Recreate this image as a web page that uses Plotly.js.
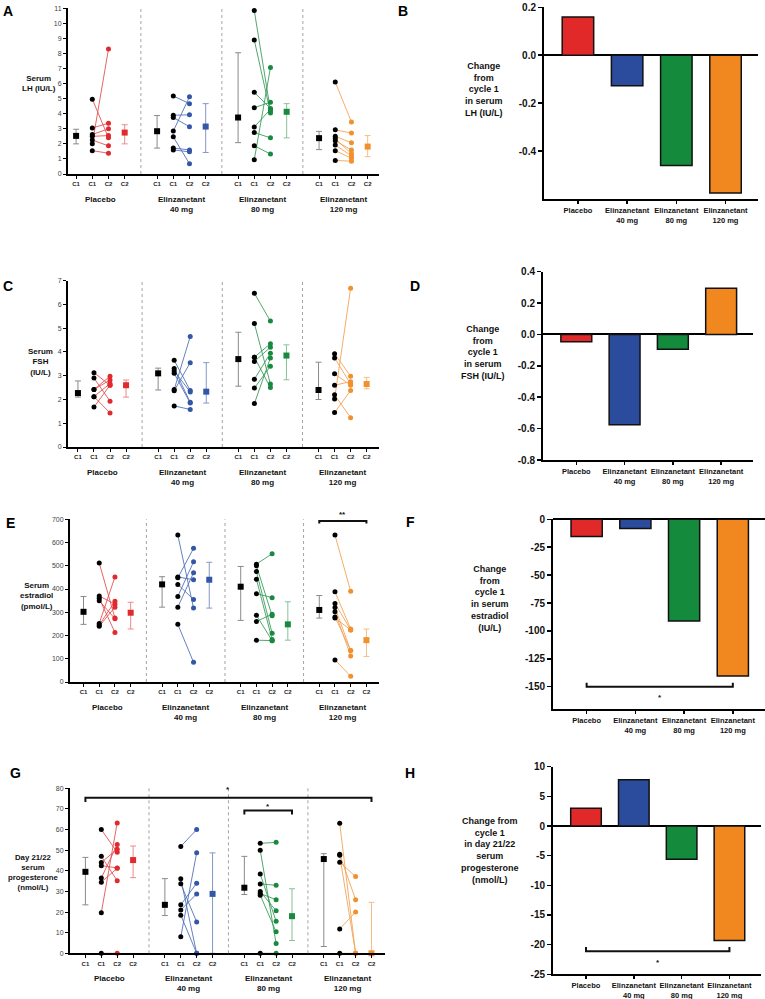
<!DOCTYPE html>
<html><head><meta charset="utf-8">
<script src="https://cdn.plot.ly/plotly-3.0.1.min.js"></script>
<style>html,body{margin:0;padding:0;background:#fff}#chart{width:765px;height:999px}</style>
</head><body><div id="chart"></div>
<script>
// ---------- labels ----------
const groupLabels = ["Placebo", "Elinzanetant<br>40 mg", "Elinzanetant<br>80 mg", "Elinzanetant<br>120 mg"];
const slotLabels = ["C1", "C1", "C2", "C2"];

// ---------- Panel A: serum LH (IU/L), paired individual values ----------
const lhC1 = [[2.0, 4.97, 3.06, 2.62, 2.5, 2.25, 1.55], [5.18, 3.9, 3.75, 2.85, 2.47, 1.72, 1.6], [10.85, 8.9, 5.42, 4.4, 3.12, 2.75, 1.88, 0.95], [6.1, 2.93, 2.5, 2.35, 2.2, 1.93, 1.55, 0.9]];
const lhC2 = [[8.3, 2.4, 3.37, 3.0, 2.55, 1.87, 1.38], [4.67, 3.93, 3.14, 5.12, 0.68, 1.6, 1.47], [4.2, 4.05, 4.35, 4.77, 4.3, 2.4, 1.32, 7.07], [3.45, 2.72, 2.07, 1.35, 1.6, 1.2, 1.05, 0.85]];
const lhC1Mid = [2.53, 2.84, 3.75, 2.38], lhC1Hi = [2.97, 3.88, 8.05, 2.83], lhC1Lo = [2.0, 1.72, 2.08, 1.62];
const lhC2Mid = [2.75, 3.15, 4.13, 1.82], lhC2Hi = [3.27, 4.67, 4.67, 2.55], lhC2Lo = [2.0, 1.43, 2.4, 1.15];

// ---------- Panel C: serum FSH (IU/L) ----------
const fshC1 = [[3.13, 2.9, 2.42, 2.42, 2.12, 2.12, 1.68], [3.65, 3.3, 3.2, 3.1, 2.42, 2.37, 1.73], [6.47, 5.2, 3.78, 3.78, 3.6, 2.85, 2.48, 1.83], [3.93, 3.75, 3.08, 2.6, 2.2, 2.02, 1.45]];
const fshC2 = [[2.6, 1.93, 2.98, 2.82, 1.43, 2.67, 2.6], [2.38, 1.88, 2.32, 1.85, 4.65, 3.55, 1.58], [5.3, 2.65, 4.35, 2.5, 4.2, 3.95, 3.4, 3.75], [2.98, 2.65, 2.6, 2.75, 1.23, 6.68, 2.38]];
const fshC1Mid = [2.27, 3.1, 3.7, 2.4], fshC1Hi = [2.78, 3.32, 4.83, 3.57], fshC1Lo = [2.1, 2.4, 2.56, 2.0];
const fshC2Mid = [2.6, 2.33, 3.85, 2.65], fshC2Hi = [2.82, 3.55, 4.3, 2.93], fshC2Lo = [2.1, 1.85, 2.83, 2.45];

// ---------- Panel E: serum estradiol (pmol/L) ----------
const e2C1 = [[512, 370, 360, 350, 252, 245, 240], [632, 452, 448, 420, 368, 322, 248], [507, 500, 475, 442, 380, 287, 260, 180], [632, 388, 338, 320, 302, 280, 275, 95]];
const e2C2 = [[275, 335, 213, 272, 452, 347, 322], [318, 440, 575, 355, 517, 470, 85], [552, 285, 210, 183, 363, 178, 292, 178], [390, 228, 224, 135, 112, 135, 224, 25]];
const e2C1Mid = [302, 420, 410, 310], e2C1Hi = [368, 453, 497, 372], e2C1Lo = [248, 322, 265, 275];
const e2C2Mid = [298, 440, 248, 180], e2C2Hi = [343, 515, 345, 228], e2C2Lo = [228, 318, 180, 110];

// ---------- Panel G: day 21/22 serum progesterone (nmol/L) ----------
const p4C1 = [[60, 47, 44, 42.5, 36.5, 34.5, 19.7, 0], [51.8, 36.2, 33.7, 23.5, 21, 18.5, 8], [53.3, 50, 38.4, 33.6, 30, 29, 28.2, 0], [63, 48, 47.5, 44.2, 11.8, 0]];
const p4C2 = [[49, 35.2, 50.5, 41.4, 52.7, 41.2, 63.2, 0], [60, 0, 15.2, 34, 28.8, 0, 48.7], [53.8, 4.7, 15.5, 33, 20.6, 26, 10.4, 0], [0, 26, 0, 37.2, 20, 0]];
const p4C1Mid = [39.5, 23.5, 31.8, 45.7], p4C1Hi = [46.5, 36.2, 47, 48.3], p4C1Lo = [23.5, 18.3, 28.5, 3.3];
const p4C2Mid = [45.2, 28.8, 18, 0], p4C2Hi = [52, 48.7, 31.3, 24.7], p4C2Lo = [36.7, 0, 6.2, 0];

// ---------- Right panels: change from cycle 1 ----------
const lhChange = [0.16, -0.127, -0.46, -0.575];
const fshChange = [-0.046, -0.575, -0.094, 0.295];
const e2Change = [-15.3, -8.2, -91.2, -140.5];
const p4Change = [3.0, 7.8, -5.6, -19.3];

// ---------- styling ----------
const FONT = "Liberation Sans, Arial, Helvetica, sans-serif";
const COLORS = ["#e2292a", "#2b4c9c", "#148a3c", "#f0871f"];
const DOTS = ["#e02a2e", "#3356a6", "#18893f", "#f0912e"];
const LINES = ["#e45454", "#5273b8", "#3c9d5e", "#f3a457"];
const WHISK = ["#ee8a8a", "#8298c9", "#86c29b", "#f6be85"];
const W = 765, H = 999;
const fx = v => v / W;
const fy = v => 1 - v / H;

const traces = [];
const layout = {
  width: W, height: H, margin: {l: 0, r: 0, t: 0, b: 0},
  paper_bgcolor: "#fff", plot_bgcolor: "#fff", showlegend: false,
  font: {family: FONT, color: "#111"},
  annotations: [], shapes: []
};

function slotX(g, i) { return g * 5 + i; }

function leftPanel(n, c1, c2, c1Mid, c1Hi, c1Lo, c2Mid, c2Hi, c2Lo) {
  const xa = "x" + n, ya = "y" + n;
  for (let g = 0; g < 4; g++) {
    const lx = [], ly = [];
    for (let k = 0; k < c1[g].length; k++) {
      lx.push(slotX(g, 1), slotX(g, 2), null);
      ly.push(c1[g][k], c2[g][k], null);
    }
    traces.push({type: "scatter", mode: "lines", x: lx, y: ly, xaxis: xa, yaxis: ya,
      line: {color: LINES[g], width: 0.9}, hoverinfo: "skip", cliponaxis: false});
    traces.push({type: "scatter", mode: "markers", x: c1[g].map(() => slotX(g, 1)), y: c1[g],
      xaxis: xa, yaxis: ya, marker: {color: "#000", size: 5}, cliponaxis: false});
    traces.push({type: "scatter", mode: "markers", x: c2[g].map(() => slotX(g, 2)), y: c2[g],
      xaxis: xa, yaxis: ya, marker: {color: DOTS[g], size: 5}, cliponaxis: false});
    traces.push({type: "scatter", mode: "markers", x: [slotX(g, 0)], y: [c1Mid[g]],
      xaxis: xa, yaxis: ya, marker: {color: "#000", size: 6, symbol: "square"}, cliponaxis: false,
      error_y: {type: "data", symmetric: false, array: [c1Hi[g] - c1Mid[g]], arrayminus: [c1Mid[g] - c1Lo[g]],
        color: "#8a8a8a", thickness: 1, width: 3}});
    traces.push({type: "scatter", mode: "markers", x: [slotX(g, 3)], y: [c2Mid[g]],
      xaxis: xa, yaxis: ya, marker: {color: DOTS[g], size: 6, symbol: "square"}, cliponaxis: false,
      error_y: {type: "data", symmetric: false, array: [c2Hi[g] - c2Mid[g]], arrayminus: [c2Mid[g] - c2Lo[g]],
        color: WHISK[g], thickness: 1, width: 3}});
  }
}

function leftAxes(n, xl, xr, yTop, yBot, xRange, yRange, yDtick, groupLabelTop) {
  const tv = [], tt = [];
  for (let g = 0; g < 4; g++) for (let i = 0; i < 4; i++) { tv.push(slotX(g, i)); tt.push(slotLabels[i]); }
  layout["xaxis" + n] = {domain: [fx(xl), fx(xr)], anchor: "y" + n, range: xRange,
    tickvals: tv, ticktext: tt, tickfont: {size: 6, family: FONT, weight: "bold", color: "#222"},
    ticks: "outside", ticklen: 3, tickwidth: 1, tickcolor: "#000",
    showline: true, linewidth: 2, linecolor: "#000", showgrid: false, zeroline: false, fixedrange: true};
  layout["yaxis" + n] = {domain: [fy(yBot), fy(yTop)], anchor: "x" + n, range: yRange, dtick: yDtick, tick0: 0,
    tickfont: {size: 7, family: FONT, color: "#444"}, ticks: "outside", ticklen: 3, tickwidth: 1, tickcolor: "#000",
    showline: true, linewidth: 2, linecolor: "#000", showgrid: false, zeroline: false, fixedrange: true};
  for (let s = 1; s <= 3; s++) {
    layout.shapes.push({type: "line", xref: "x" + n, yref: "y" + n + " domain", x0: s * 5 - 1, x1: s * 5 - 1, y0: 0, y1: 1,
      line: {color: "#8c8c8c", width: 0.8, dash: "dot"}});
  }
  for (let g = 0; g < 4; g++) {
    layout.annotations.push({xref: "x" + n, yref: "paper", x: slotX(g, 1.5), y: fy(groupLabelTop), yanchor: "top",
      text: groupLabels[g], showarrow: false, font: {size: 8, family: FONT, weight: "bold", color: "#111"}});
  }
}

function barPanel(n, vals, xl, xr, yTop, yBot, yRange, tickvals, ticktext) {
  const xa = "x" + n, ya = "y" + n;
  traces.push({type: "bar", x: [0, 1, 2, 3], y: vals, xaxis: xa, yaxis: ya, width: 0.64,
    marker: {color: COLORS, line: {color: "#111", width: 1.5}}});
  layout["xaxis" + n] = {domain: [fx(xl), fx(xr)], anchor: ya, range: [-0.69, 3.66],
    tickvals: [0, 1, 2, 3], ticktext: groupLabels, tickfont: {size: 7.5, family: FONT, weight: "bold", color: "#111"},
    ticks: "outside", ticklen: 3, tickwidth: 1.5, tickcolor: "#000",
    showline: true, linewidth: 2, linecolor: "#000", showgrid: false, zeroline: false, fixedrange: true};
  layout["yaxis" + n] = {domain: [fy(yBot), fy(yTop)], anchor: xa, range: yRange,
    tickvals: tickvals, ticktext: ticktext, tickfont: {size: 10, family: FONT, weight: "bold", color: "#111"},
    ticks: "outside", ticklen: 4, tickwidth: 1.5, tickcolor: "#000",
    showline: true, linewidth: 2, linecolor: "#000", showgrid: false,
    zeroline: true, zerolinewidth: 2, zerolinecolor: "#000", fixedrange: true};
}

// ---- build panels ----
leftPanel(1, lhC1, lhC2, lhC1Mid, lhC1Hi, lhC1Lo, lhC2Mid, lhC2Hi, lhC2Lo);
leftAxes(1, 68, 379, 8.3, 174, [-0.5, 18.7], [0, 11], 1, 193);
barPanel(2, lhChange, 544, 758, 7.3, 199, [-0.6, 0.2], [0.2, 0, -0.2, -0.4], ["0.2", "0.0", "-0.2", "-0.4"]);

leftPanel(3, fshC1, fshC2, fshC1Mid, fshC1Hi, fshC1Lo, fshC2Mid, fshC2Hi, fshC2Lo);
leftAxes(3, 68, 379, 280.7, 447, [-0.62, 18.77], [0, 7], 1, 466);
barPanel(4, fshChange, 543, 753, 271.7, 460, [-0.8, 0.4], [0.4, 0.2, 0, -0.2, -0.4, -0.6, -0.8], ["0.4", "0.2", "0.0", "-0.2", "-0.4", "-0.6", "-0.8"]);

leftPanel(5, e2C1, e2C2, e2C1Mid, e2C1Hi, e2C1Lo, e2C2Mid, e2C2Hi, e2C2Lo);
leftAxes(5, 70, 379, 519.3, 682, [-0.86, 18.8], [0, 700], 100, 701);
barPanel(6, e2Change, 553, 765, 519, 709, [-170, 0.3], [0, -25, -50, -75, -100, -125, -150], ["0", "-25", "-50", "-75", "-100", "-125", "-150"]);

leftPanel(7, p4C1, p4C2, p4C1Mid, p4C1Hi, p4C1Lo, p4C2Mid, p4C2Hi, p4C2Lo);
leftAxes(7, 70, 385, 788.3, 953.3, [-0.97, 18.85], [0, 80], 10, 972);
barPanel(8, p4Change, 553, 761, 766.7, 974.3, [-25, 10], [10, 5, 0, -5, -10, -15, -20, -25], ["10", "5", "0", "-5", "-10", "-15", "-20", "-25"]);

// ---- significance brackets ----
function bracket(n, x0, x1, y, yEnd) {
  layout.shapes.push({type: "path", xref: "x" + n, yref: "y" + n,
    path: `M ${x0},${yEnd} L ${x0},${y} L ${x1},${y} L ${x1},${yEnd}`, line: {color: "#111", width: 2}});
}
function star(n, x, yPx, txt) {
  layout.annotations.push({xref: "x" + n, yref: "paper", x: x, y: fy(yPx), yanchor: "middle", text: txt, showarrow: false,
    font: {size: 8, family: FONT, weight: "bold", color: "#111"}});
}
bracket(5, 15, 18, 693, 682); star(5, 16.5, 514, "**");
bracket(7, 0, 18, 75.4, 73.3); star(7, 9, 789, "*");
bracket(7, 10, 13, 69.2, 67.3); star(7, 11.5, 806, "*");
bracket(6, 0, 3, -150, -146.5); star(6, 1.5, 697, "*");
bracket(8, 0, 3, -21.1, -20.4); star(8, 1.5, 962, "*");

// ---- axis titles (as annotations) ----
function title(x, y, txt, size) {
  layout.annotations.push({xref: "paper", yref: "paper", x: fx(x), y: fy(y), xanchor: "center", yanchor: "middle",
    text: txt, showarrow: false, align: "center", font: {size: size, family: FONT, weight: "bold", color: "#111"}});
}
title(39, 84, "Serum<br>LH (IU/L)", 8);
title(40, 362, "Serum<br>FSH<br>(IU/L)", 8);
title(36, 596, "Serum<br>estradiol<br>(pmol/L)", 8);
title(33, 872, "Day 21/22<br>serum<br>progesterone<br>(nmol/L)", 7.8);
title(484, 90, "Change<br>from<br>cycle 1<br>in serum<br>LH (IU/L)", 9);
title(483, 353, "Change<br>from<br>cycle 1<br>in serum<br>FSH (IU/L)", 9);
title(490, 598, "Change<br>from<br>cycle 1<br>in serum<br>estradiol<br>(IU/L)", 9);
title(490, 850, "Change from<br>cycle 1<br>in day 21/22<br>serum<br>progesterone<br>(nmol/L)", 9);

// ---- panel letters ----
const letters = [["A", 8, 11], ["B", 403, 11], ["C", 8, 286], ["D", 415, 286], ["E", 10, 523], ["F", 410, 522], ["G", 15, 773], ["H", 410, 773]];
letters.forEach(([t, x, y]) => layout.annotations.push({xref: "paper", yref: "paper", x: fx(x), y: fy(y),
  xanchor: "center", yanchor: "middle", text: t, showarrow: false, font: {size: 14, family: FONT, weight: "bold", color: "#000"}}));

Plotly.newPlot("chart", traces, layout, {displayModeBar: false, staticPlot: true});
</script>
</body></html>
